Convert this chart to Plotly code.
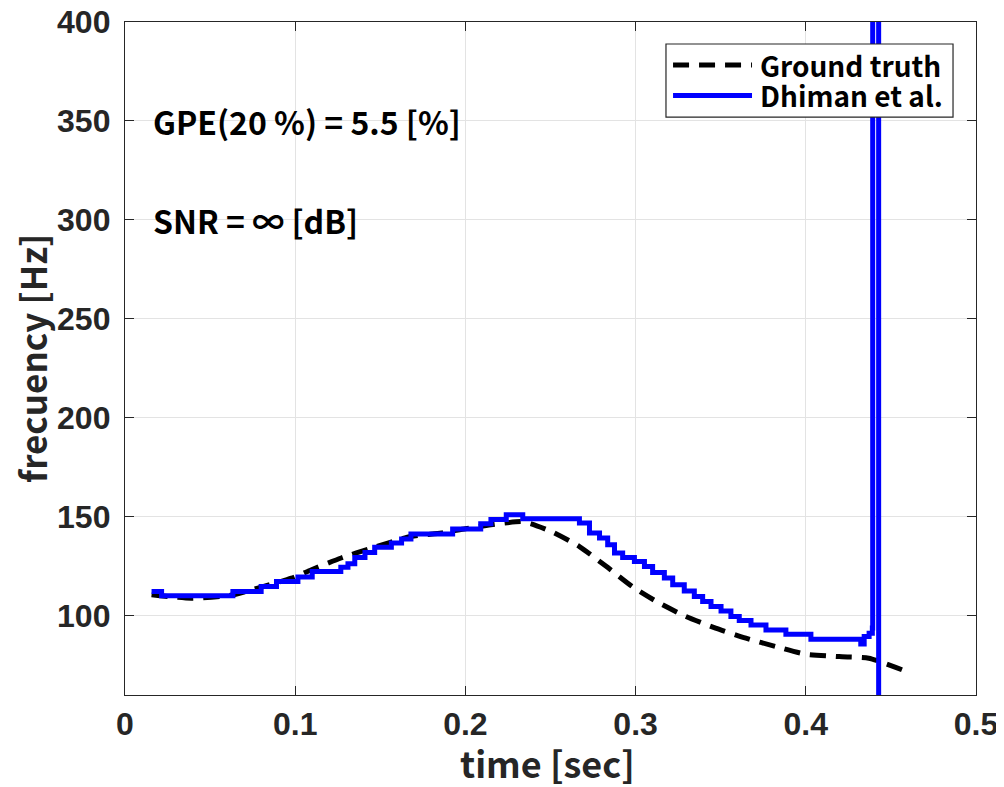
import plotly.graph_objects as go

# ---- data ----
gt_time = [0.0156, 0.039, 0.0626, 0.078, 0.0978, 0.1096, 0.127, 0.1448, 0.168, 0.186,
           0.200, 0.215, 0.2328, 0.2387, 0.2504, 0.267, 0.2827, 0.298, 0.314, 0.3296,
           0.347, 0.3648, 0.3824, 0.400, 0.4196, 0.437, 0.4567, 0.459]
gt_freq = [110.6, 108.9, 110.5, 114.0, 119.0, 123.3, 129.2, 134.2, 140.1, 141.8,
           144.0, 146.0, 147.6, 146.5, 142.6, 135.0, 125.0, 114.8, 106.4, 99.7,
           93.8, 88.7, 84.5, 80.6, 79.4, 78.6, 72.7, 71.8]

est_time = [0.0156, 0.0215, 0.0634, 0.0800, 0.0890, 0.1016, 0.1100, 0.1268, 0.1310,
            0.1350, 0.1410, 0.1467, 0.1565, 0.1625, 0.1680, 0.1925, 0.2090, 0.2150,
            0.2240, 0.2337, 0.2670, 0.2729, 0.2788, 0.2836, 0.2876, 0.2924, 0.2993,
            0.3052, 0.3100, 0.3169, 0.3218, 0.3286, 0.3345, 0.3394, 0.3443, 0.3502,
            0.3560, 0.3609, 0.3678, 0.3766, 0.3883, 0.4030, 0.4323, 0.4343, 0.4372,
            0.4391, 0.4393, 0.4428, 0.4430]
est_freq = [112.3, 110.1, 112.3, 114.8, 117.4, 119.6, 122.4, 124.5, 126.3,
            129.5, 132.0, 134.7, 136.8, 138.8, 141.3, 143.9, 146.5, 148.6,
            151.1, 149.0, 146.9, 141.8, 139.3, 135.9, 131.7, 129.5, 127.5,
            124.9, 121.9, 119.1, 115.7, 112.6, 109.8, 107.2, 104.7, 102.5,
            99.6, 97.6, 95.4, 92.9, 90.7, 88.2, 85.8, 89.5, 91.2,
            93.8, 600.0, 0.0, 0.0]

series_names = ["Ground truth", "Dhiman et al."]
x_ticks = [0, 0.1, 0.2, 0.3, 0.4, 0.5]
y_ticks = [100, 150, 200, 250, 300, 350, 400]
text_lines = ["GPE(20 %) = 5.5 [%]", "SNR = ∞ [dB]"]
text_y = [350, 300]
text_x = 0.015
x_title = "time [sec]"
y_title = "frecuency [Hz]"

FONT = "Noto Sans CJK JP"
TICKFONT = "Liberation Sans"
AX = "#262626"

fig = go.Figure()
fig.add_trace(go.Scatter(x=gt_time, y=gt_freq, mode="lines", name=series_names[0],
                         line=dict(color="black", width=5, dash="16px,10px", shape="spline", smoothing=0.6),
                         showlegend=False))
fig.add_trace(go.Scatter(x=est_time, y=est_freq, mode="lines", name=series_names[1],
                         line=dict(color="#0000ff", width=5, shape="hv"),
                         showlegend=False))

for t, yv in zip(text_lines, text_y):
    fig.add_annotation(x=text_x, y=yv, xref="x", yref="y", text="<b>%s</b>" % t,
                       showarrow=False, xanchor="left", yanchor="middle",
                       font=dict(family=FONT, size=32, color="black"))

# legend (drawn manually, MATLAB style)
fig.add_shape(type="rect", xref="paper", yref="paper", x0=0.6357, x1=0.973, y0=0.8588, y1=0.9673,
              line=dict(color=AX, width=1.2), fillcolor="white", layer="above")
fig.add_shape(type="line", xref="paper", yref="paper", x0=0.644, x1=0.7368, y0=0.936, y1=0.936,
              line=dict(color="black", width=5, dash="16px,10px"), layer="above")
fig.add_shape(type="line", xref="paper", yref="paper", x0=0.644, x1=0.7368, y0=0.8908, y1=0.8908,
              line=dict(color="#0000ff", width=5), layer="above")
for name, yy in zip(series_names, [0.936, 0.8908]):
    fig.add_annotation(x=0.744, y=yy, xref="paper", yref="paper", text="<b>%s</b>" % name,
                       showarrow=False, xanchor="left", yanchor="middle",
                       font=dict(family=FONT, size=28, color="black"))

# axis titles
fig.add_annotation(x=0.4965, y=-0.100, xref="paper", yref="paper", text="<b>%s</b>" % x_title,
                   showarrow=False, xanchor="center", yanchor="middle",
                   font=dict(family=FONT, size=36, color=AX))
fig.add_annotation(x=-0.110, y=0.50, xref="paper", yref="paper", text="<b>%s</b>" % y_title,
                   showarrow=False, xanchor="center", yanchor="middle", textangle=-90,
                   font=dict(family=FONT, size=35, color=AX))

axis_common = dict(showline=True, linecolor=AX, linewidth=1.3, mirror="ticks",
                   ticks="inside", ticklen=9, tickwidth=1.3, tickcolor=AX, automargin=False,
                   showgrid=True, gridcolor="#e3e3e3", gridwidth=1, zeroline=False,
                   ticklabeloverflow="allow",
                   tickfont=dict(family=TICKFONT, size=32, color=AX, weight="bold"))

fig.update_xaxes(range=[0, 0.5], tickvals=x_ticks, ticktext=[("%g" % v) for v in x_ticks],
                 **axis_common)
fig.update_yaxes(range=[60, 400], tickvals=y_ticks, ticktext=[str(v) for v in y_ticks],
                 ticklabelstandoff=7, **axis_common)

# page body has an 8px margin: margins compensate so the plot sits where the reference has it
fig.update_layout(width=996, height=779, margin=dict(l=117, r=28, t=14, b=92),
                  paper_bgcolor="white", plot_bgcolor="white", showlegend=False)

fig.write_html("out.html")
